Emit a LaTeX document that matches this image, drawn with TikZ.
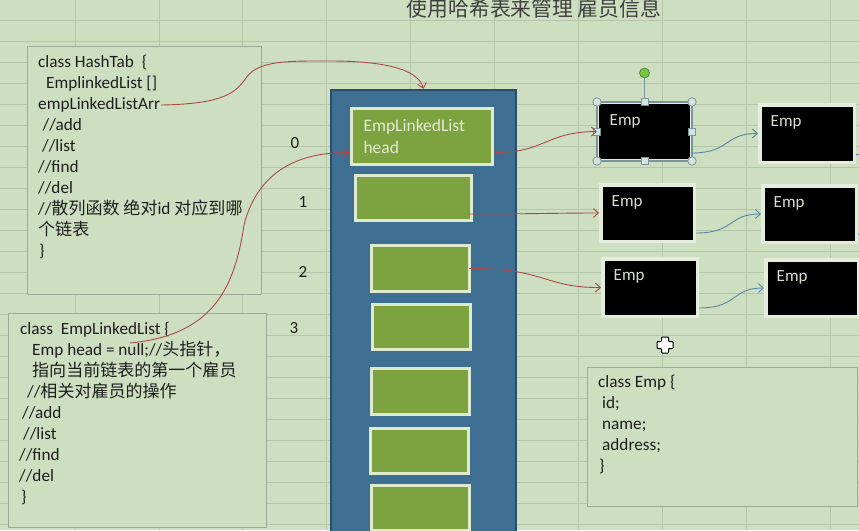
\documentclass[tikz,border=0pt]{standalone}
\usepackage{fontspec}
\setmainfont{Carlito}
\newfontfamily\cjk[Scale=0.99]{Noto Sans CJK SC}
\newcommand{\zhtxt}[1]{{\cjk #1}}
\usetikzlibrary{arrows.meta,shadows}
\definecolor{bg}{RGB}{205,223,192}
\definecolor{gridc}{RGB}{180,197,170}
\definecolor{boxc}{RGB}{158,168,153}
\definecolor{txt}{RGB}{30,30,30}
\definecolor{colfill}{RGB}{62,110,146}
\definecolor{colbord}{RGB}{40,78,108}
\definecolor{slotg}{RGB}{125,163,64}
\definecolor{slotb}{RGB}{222,234,206}
\definecolor{slottxt}{RGB}{226,236,212}
\definecolor{empb}{RGB}{228,236,220}
\definecolor{emptxtc}{RGB}{215,222,205}
\definecolor{redc}{RGB}{170,74,70}
\definecolor{bluec}{RGB}{86,136,170}
\definecolor{selc}{RGB}{120,150,160}
\definecolor{handlec}{RGB}{212,228,216}
\definecolor{rotg}{RGB}{118,196,70}
\begin{document}
\begin{tikzpicture}[x=1pt,y=-1pt,
  gridline/.style={draw=gridc, line width=0.8pt},
  codebox/.style={draw=boxc, line width=0.9pt, fill=bg, inner sep=0pt},
  codetext/.style={align=left, inner sep=0pt, text=txt, anchor=north west, font=\fontsize{17.2}{21}\selectfont},
  idxlabel/.style={text=txt, inner sep=0pt, font=\fontsize{17}{20}\selectfont},
  slotbox/.style={fill=slotg, draw=slotb, line width=3pt, inner sep=0pt,
    drop shadow={shadow xshift=1.2pt, shadow yshift=-1.8pt, opacity=.35}},
  empbox/.style={fill=black, draw=empb, line width=3.5pt, inner sep=0pt,
    drop shadow={shadow xshift=1.2pt, shadow yshift=-1.8pt, opacity=.3},
    label={[emplabel]north west:Emp}},
  emplabel/.style={anchor=north west, inner sep=0pt, xshift=12.5pt, yshift=-12pt, text=emptxtc, font=\fontsize{17}{20}\selectfont},
  redarrow/.style={draw=redc, line width=0.9pt, -{Straight Barb[length=5pt,width=9pt]}},
  bluearrow/.style={draw=bluec, line width=0.9pt, -{Straight Barb[length=5pt,width=9pt]}},
  bluestub/.style={draw=bluec, line width=0.9pt},
  selframe/.style={draw=selc, line width=1.1pt},
  hcirc/.style={circle, fill=handlec, draw=selc, line width=0.8pt, minimum size=8.5pt, inner sep=0pt},
  hsq/.style={rectangle, fill=handlec, draw=selc, line width=0.8pt, minimum size=7pt, inner sep=0pt},
  rothandle/.style={circle, fill=rotg, draw=rotg!60!black, line width=0.6pt, minimum size=10pt, inner sep=0pt}
]
\useasboundingbox (0,0) rectangle (859,530);
\clip (0,0) rectangle (859,530);
\fill[bg] (0,0) rectangle (859,530);
% grid
\foreach \k in {-1,...,9} \draw[gridline] ({75+83.9*\k},0) -- ++(0,530);
\foreach \k in {0,...,25} \draw[gridline] (0,{-1+21*\k}) -- ++(859,0);

% title
\node[inner sep=0pt, text=txt!85, font=\cjk\fontsize{21}{22}\selectfont] (title) at (534,9) {使用哈希表来管理 雇员信息};

% code boxes
\node[codebox, minimum width=234pt, minimum height=248pt] (hashbox) at (144,170) {};
\node[codetext] (hashtxt) at (38,53) {\rule{0pt}{14pt}class HashTab\ \ \{\\
\hspace*{8pt}EmplinkedList []\\
empLinkedListArr\\
\hspace*{4.5pt}//add\\
\hspace*{4pt}//list\\
//find\\
//del\\
//\zhtxt{散列函数} \zhtxt{绝对}id \zhtxt{对应到哪}\\
\zhtxt{个链表}\\
\hspace*{1pt}\}};

\node[codebox, minimum width=258pt, minimum height=214pt] (listbox) at (137,420) {};
\node[codetext] (listtxt) at (19,320) {\rule{0pt}{14pt}\hspace*{1pt}class\ \ EmpLinkedList \{\\
\hspace*{13pt}Emp head = null;//\zhtxt{头指针，}\\
\hspace*{13pt}\zhtxt{指向当前链表的第一个雇员}\\
\hspace*{8pt}//\zhtxt{相关对雇员的操作}\\
\hspace*{3pt}//add\\
\hspace*{4pt}//list\\
//find\\
//del\\
\hspace*{2pt}\}};

\node[codebox, minimum width=270pt, minimum height=139pt] (empclass) at (722,436.5) {};
\node[codetext] (emptxt) at (598,373) {\rule{0pt}{14pt}class Emp \{\\
\hspace*{4pt}id;\\
\hspace*{4pt}name;\\
\hspace*{4pt}address;\\
\hspace*{1pt}\}};

% index labels
\node[idxlabel] (idx0) at (295,143) {0};
\node[idxlabel] (idx1) at (303,202) {1};
\node[idxlabel] (idx2) at (303,272) {2};
\node[idxlabel] (idx3) at (294,328) {3};

% blue column
\node[fill=colfill, draw=colbord, line width=2.5pt, minimum width=185pt, minimum height=450pt, inner sep=0pt] (column) at (423.5,315) {};

% green slots
\node[slotbox, text width=117pt, inner xsep=12pt, minimum height=56pt, align=left, text=slottxt, font=\fontsize{17.5}{22}\selectfont] (slot0) at (422,136.5) {EmpLinkedList\\head};
\node[slotbox, minimum width=116pt, minimum height=45pt] (slot1) at (413.5,198) {};
\node[slotbox, minimum width=98pt, minimum height=46pt] (slot2) at (420.5,268.5) {};
\node[slotbox, minimum width=98pt, minimum height=45pt] (slot3) at (421.5,327) {};
\node[slotbox, minimum width=98pt, minimum height=46pt] (slot4) at (420.5,391.5) {};
\node[slotbox, minimum width=98pt, minimum height=45pt] (slot5) at (419.5,451) {};
\node[slotbox, minimum width=98pt, minimum height=45pt] (slot6) at (420.5,508) {};

% Emp boxes
\node[empbox, line width=2pt, minimum width=93pt, minimum height=57pt] (e0a) at (644.5,131.5) {};
\node[empbox, minimum width=94.5pt, minimum height=57.5pt] (e0b) at (807,133.5) {};
\node[empbox, minimum width=93.5pt, minimum height=56.5pt] (e1a) at (647.5,213) {};
\node[empbox, minimum width=93.5pt, minimum height=56.5pt] (e1b) at (809.5,214) {};
\node[empbox, minimum width=94.5pt, minimum height=57.5pt] (e2a) at (650,287.5) {};
\node[empbox, minimum width=92.5pt, minimum height=56.5pt] (e2b) at (812,288) {};

% selection handles on first Emp
\draw[selframe] (e0a.north west) rectangle (e0a.south east);
\node[rothandle] (rot) at (644.5,73) {};
\draw[selframe] (rot) -- (e0a.north);
\foreach \a/\n in {north west/nw, north east/ne, south west/sw, south east/se}
  \node[hcirc] (hc-\n) at (e0a.\a) {};
\foreach \a/\n in {north/n, south/s, east/e, west/w}
  \node[hsq] (hs-\n) at (e0a.\a) {};

% connectors
\coordinate (arrEnd) at (161,105);
\coordinate (nullEnd) at (130,343);
\draw[redarrow] (arrEnd) .. controls (225,104) and (236,92) .. (246,78)
  .. controls (258,60) and (290,61) .. (330,61)
  .. controls (380,61) and (418,68) .. (column.north);
\draw[redarrow] (nullEnd) .. controls (215,335) and (235,285) .. (244,225)
  .. controls (258,170) and (300,152) .. ([yshift=-16pt]slot0.west);
\draw[redarrow] ([yshift=-16pt]slot0.east) .. controls (545,153) and (545,132) .. (e0a.west);
\draw[redarrow] ([xshift=-5pt,yshift=-16pt]slot1.east) .. controls (530,214) and (560,213) .. (e1a.west);
\draw[redarrow] ([xshift=-2pt]slot2.east) .. controls (545,268) and (545,288) .. (e2a.west);

\draw[bluearrow] ([yshift=8pt]e0a.south east) .. controls (730,153) and (725,133) .. (e0b.west);
\draw[bluearrow] ([yshift=10pt]e1a.south east) .. controls (735,233) and (728,214) .. (e1b.west);
\draw[bluearrow] ([yshift=10pt]e2a.south east) .. controls (738,308) and (731,288) .. (e2b.west);
\draw[bluestub] ([yshift=10pt]e0b.south east) -- ++(25,0);
\draw[bluestub] ([yshift=10pt]e1b.south east) -- ++(25,0);
\draw[bluestub] ([yshift=9pt]e2b.south east) -- ++(25,0);

% mouse cursor
\draw[fill=white, draw=black, line width=1pt, rounded corners=0.8pt]
  (661.5,337) -- (668.5,337) -- (668.5,341.5) -- (673,341.5) -- (673,348.5) -- (668.5,348.5)
  -- (668.5,353) -- (661.5,353) -- (661.5,348.5) -- (657,348.5) -- (657,341.5) -- (661.5,341.5) -- cycle;
\end{tikzpicture}
\end{document}
